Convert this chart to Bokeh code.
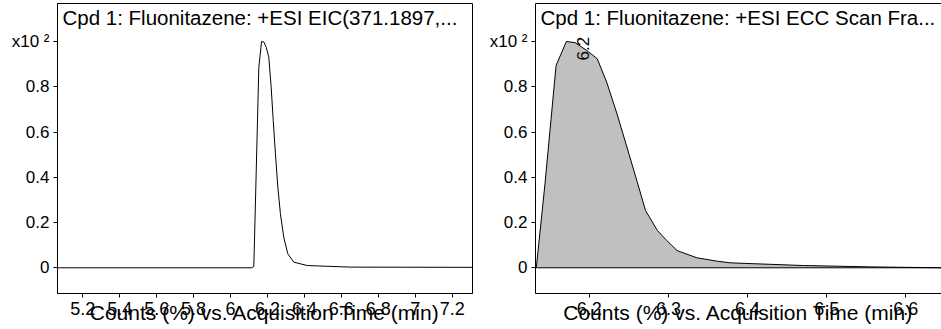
import math
from bokeh.plotting import figure
from bokeh.layouts import row
from bokeh.models import Range1d, FixedTicker, Label, LinearAxis, Span
from bokeh.core.properties import value
from bokeh.embed import file_html
from bokeh.resources import INLINE

# ---------------- data ----------------
eic_time = [5.063, 6.115, 6.126, 6.153, 6.168, 6.180, 6.193, 6.207, 6.220, 6.231,
            6.243, 6.256, 6.270, 6.288, 6.310, 6.342, 6.415, 6.649, 7.31]
eic_counts = [0.0, 0.0, 0.006, 0.885, 1.0, 0.998, 0.975, 0.931, 0.798, 0.651,
              0.504, 0.356, 0.239, 0.135, 0.062, 0.025, 0.010, 0.003, 0.002]

ecc_time = [6.133, 6.144, 6.158, 6.171, 6.182, 6.197, 6.210, 6.222, 6.235, 6.250,
            6.260, 6.271, 6.286, 6.298, 6.311, 6.336, 6.362, 6.378, 6.408, 6.471,
            6.556, 6.645]
ecc_counts = [0.0, 0.371, 0.894, 1.0, 0.995, 0.96, 0.924, 0.82, 0.68, 0.504,
              0.386, 0.253, 0.165, 0.12, 0.076, 0.044, 0.029, 0.022, 0.018, 0.010,
              0.004, 0.0]

eic_x_ticks = [5.2, 5.4, 5.6, 5.8, 6.0, 6.2, 6.4, 6.6, 6.8, 7.0, 7.2]
eic_x_labels = ["5.2", "5.4", "5.6", "5.8", "6", "6.2", "6.4", "6.6", "6.8", "7", "7.2"]
ecc_x_ticks = [6.2, 6.3, 6.4, 6.5, 6.6]
ecc_x_labels = ["6.2", "6.3", "6.4", "6.5", "6.6"]
y_ticks = [0, 0.2, 0.4, 0.6, 0.8, 1.0]
y_labels = ["0", "0.2", "0.4", "0.6", "0.8", "x10 \u00b2"]

titles = ["Cpd 1: Fluonitazene: +ESI EIC(371.1897,...",
          "Cpd 1: Fluonitazene: +ESI ECC Scan Fra..."]
x_axis_label = "Counts (%) vs. Acquisition Time (min)"
peak_rt = [6.192]
peak_level = [0.916]
peak_text = ["6.2"]

# ---------------- styling ----------------
FONT = "Liberation Sans"
Y_MIN, Y_MAX = -0.1136, 1.168


def style(p, xticks, xlabels):
    p.xgrid.visible = False
    p.ygrid.visible = False
    p.background_fill_color = "white"
    p.border_fill_color = "white"
    p.xaxis.ticker = FixedTicker(ticks=xticks, minor_ticks=[])
    p.xaxis.major_label_overrides = dict(zip(xticks, xlabels))
    p.yaxis.ticker = FixedTicker(ticks=y_ticks, minor_ticks=[])
    p.yaxis.major_label_overrides = dict(zip(y_ticks, y_labels))
    for ax in (p.xaxis[0], p.yaxis[0]):
        ax.axis_line_color = "black"
        ax.major_tick_line_color = "black"
        ax.major_tick_out = 4
        ax.major_tick_in = 0
        ax.minor_tick_out = 0
        ax.minor_tick_in = 0
        ax.major_label_text_font = FONT
        ax.major_label_text_color = "black"
        ax.major_label_standoff = 4
    p.yaxis.major_label_text_font_size = "17px"
    p.xaxis.major_label_text_font_size = "18px"
    p.xaxis.axis_label = x_axis_label
    p.xaxis.axis_label_text_font = FONT
    p.xaxis.axis_label_text_font_size = "21px"
    p.xaxis.axis_label_text_font_style = "normal"
    p.xaxis.axis_label_text_color = "black"
    p.xaxis.axis_label_standoff = -17


# ---------------- left panel: EIC ----------------
p1 = figure(width=478, height=329, x_range=Range1d(5.063, 7.31),
            y_range=Range1d(Y_MIN, Y_MAX), output_backend="svg",
            toolbar_location=None, min_border_left=57, min_border_right=6,
            min_border_top=3, min_border_bottom=36)
style(p1, eic_x_ticks, eic_x_labels)
p1.outline_line_color = "black"
p1.outline_line_alpha = 1.0
p1.line(eic_time, eic_counts, line_color="black", line_width=1)
p1.add_layout(Label(x=5.063, y=Y_MAX - 0.012, x_offset=5, text=titles[0],
                    text_font=FONT, text_font_size="20.5px", text_color="black",
                    text_align="left", text_baseline="top"))

# ---------------- right panel: ECC ----------------
p2 = figure(width=463, height=329, x_range=Range1d(6.132, 6.645),
            y_range=Range1d(Y_MIN, Y_MAX), output_backend="svg",
            toolbar_location=None, min_border_left=57, min_border_right=0,
            min_border_top=3, min_border_bottom=36)
style(p2, ecc_x_ticks, ecc_x_labels)
p2.outline_line_color = None
top_axis = LinearAxis(ticker=FixedTicker(ticks=[], minor_ticks=[]),
                      axis_line_color="black", major_tick_out=0, major_tick_in=0,
                      minor_tick_out=0, minor_tick_in=0,
                      major_label_text_font_size="0px", major_label_standoff=0)
p2.add_layout(top_axis, "above")
p2.varea(x=ecc_time, y1=0, y2=ecc_counts, fill_color="#c0c0c0", fill_alpha=1.0)
p2.add_layout(Span(location=0, dimension="width", line_color="black", line_width=1))
p2.line(ecc_time, ecc_counts, line_color="black", line_width=1)
p2.text(x=peak_rt, y=peak_level, text=peak_text, angle=math.pi / 2,
        text_align="left", text_baseline="middle", text_font=value(FONT),
        text_font_size="17px", text_color="black")
p2.add_layout(Label(x=6.132, y=Y_MAX - 0.012, x_offset=5, text=titles[1],
                    text_font=FONT, text_font_size="20.5px", text_color="black",
                    text_align="left", text_baseline="top"))

layout = row(p1, p2)
open("out.html", "w").write(file_html(layout, INLINE))
